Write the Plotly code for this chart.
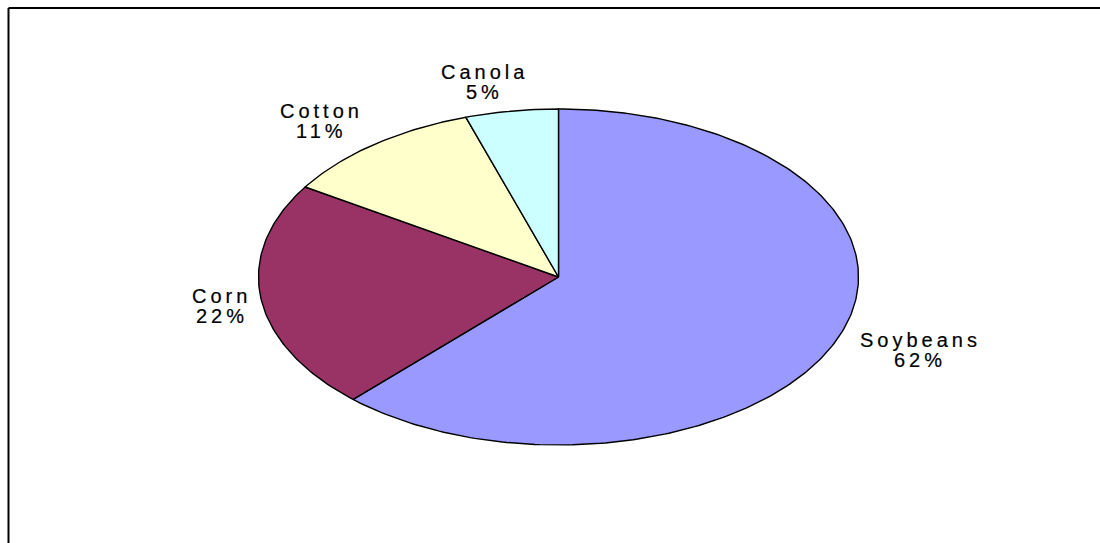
import math
import plotly.graph_objects as go

# Crop shares (percent of acreage)
crops = ["Soybeans", "Corn", "Cotton", "Canola"]
shares = [62, 22, 11, 5]
colors = ["#9999FF", "#993366", "#FFFFCC", "#CCFFFF"]

# Label block offsets (px) from each slice's mid-angle rim point
label_offsets = [(81, 11), (-41, 8), (-55, -23), (-29, -29)]

W, H = 1100, 543
CX, CY = 558.5, 277.0   # pie centre (px)
RX, RY = 300.0, 168.0   # stretched pie radii (px)
FONT = "Arial, Liberation Sans, sans-serif"
HALF_GAP = 10           # half the distance between the two label lines


def rim(theta):
    """Point on the stretched pie rim; theta measured clockwise from 12 o'clock."""
    return CX + RX * math.sin(theta), CY - RY * math.cos(theta)


def wide(text):
    return (f'<span style="letter-spacing:4px;stroke:#000;'
            f'stroke-width:0.2px">{text}</span>')


fig = go.Figure()
total = float(sum(shares))
start = 0.0
for name, val, col, (ox, oy) in zip(crops, shares, colors, label_offsets):
    frac = val / total
    t0, t1 = start * 2 * math.pi, (start + frac) * 2 * math.pi
    n = max(8, int(400 * frac))
    xs, ys = [CX], [CY]
    for i in range(n + 1):
        x, y = rim(t0 + (t1 - t0) * i / n)
        xs.append(x)
        ys.append(y)
    xs.append(CX)
    ys.append(CY)
    fig.add_trace(go.Scatter(
        x=xs, y=ys, mode="lines", fill="toself", fillcolor=col,
        line=dict(color="#000000", width=1.4), hoverinfo="skip",
        showlegend=False,
    ))

    # two-line label: crop name over its percentage
    mx, my = rim((t0 + t1) / 2)
    lx, ly = mx + ox + 2, my + oy
    for text, dy in ((name, -HALF_GAP), (f"{val}%", HALF_GAP)):
        fig.add_annotation(
            x=lx, y=ly + dy, xref="x", yref="y",
            text=wide(text), showarrow=False,
            xanchor="center", yanchor="middle",
            font=dict(family=FONT, size=20, color="#000000"),
        )
    start += frac

# chart-area frame: left and top edges (the rest runs off the page)
fig.add_shape(type="line", xref="x", yref="y", x0=8.5, y0=8, x1=8.5, y1=H,
              line=dict(color="#000000", width=2), layer="above")
fig.add_shape(type="line", xref="x", yref="y", x0=8.5, y0=8, x1=W, y1=8,
              line=dict(color="#000000", width=2), layer="above")

fig.update_layout(
    width=W, height=H,
    margin=dict(l=0, r=0, t=0, b=0),
    paper_bgcolor="#FFFFFF", plot_bgcolor="#FFFFFF",
    xaxis=dict(range=[0, W], visible=False, fixedrange=True),
    yaxis=dict(range=[H, 0], visible=False, fixedrange=True),
    showlegend=False,
)

fig.write_html("out.html")
